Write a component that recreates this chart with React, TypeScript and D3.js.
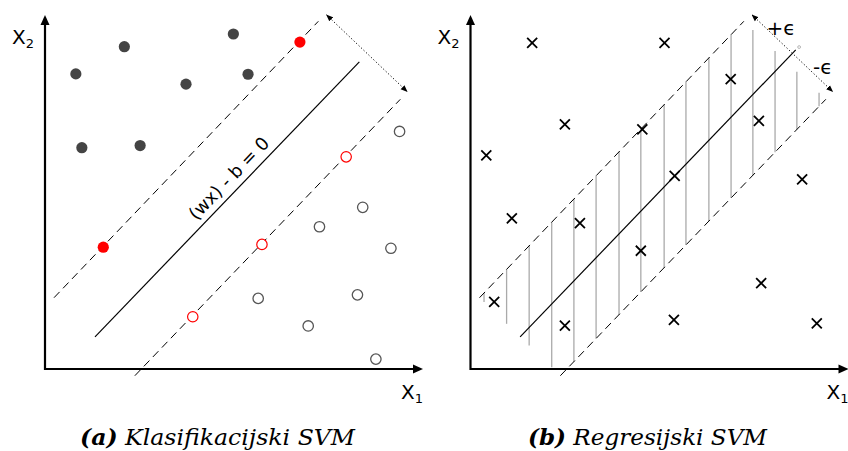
import React from "react";
import * as d3 from "d3";

// plot frame in pixels (same for both panels)
const PLOT_W = 376;
const PLOT_H = 353;
const TOP = 16;
const PANEL_X = [45, 470.5];

// (a) classification points, in data units 0..100
const darkPoints = [
  [8.2, 83.6], [21.1, 91.3], [50.1, 94.9], [37.5, 80.7],
  [54.0, 83.5], [9.8, 62.7], [25.3, 63.3],
];
const redFilled = [[67.8, 92.6], [15.5, 34.5]];
const redHollow = [[80.1, 60.1], [57.7, 35.3], [39.3, 14.8]];
const greyHollow = [
  [94.3, 67.3], [84.5, 45.8], [73.0, 40.3], [92.0, 34.2],
  [56.7, 20.0], [83.1, 21.0], [70.0, 12.2], [88.0, 2.8],
];

// (b) regression points
const crosses = [
  [16.4, 92.4], [51.6, 92.4], [69.2, 82.1], [25.1, 69.3], [45.7, 67.9],
  [76.7, 70.3], [4.2, 60.5], [54.3, 54.7], [88.2, 53.7], [11.0, 42.7],
  [29.1, 41.3], [45.3, 33.5], [77.3, 24.3], [6.3, 19.0], [25.1, 12.3],
  [54.1, 13.9], [92.1, 12.9],
];

// margin lines
const upperMargin = [[2.4, 20.2], [72.7, 98.5]];
const lowerMargin = [[23.9, -1.9], [94.5, 76.4]];
const solidA = [[13.3, 9.1], [83.6, 87.0]];
const solidB = [[13.2, 9.1], [86.5, 90.4]];
const widthArrow = [[74.9, 100.3], [96.3, 78.6]];
const hatchX = [3.6, 9.6, 15.6, 21.6, 27.5, 33.4, 39.5, 45.3, 51.5, 57.3, 63.4, 69.3, 75.1, 81.0, 86.8, 92.7];

const x = d3.scaleLinear().domain([0, 100]).range([0, PLOT_W]);
const y = d3.scaleLinear().domain([0, 100]).range([PLOT_H, 0]);
const line = d3.line<number[]>().x(d => x(d[0])).y(d => y(d[1]));

const band = [upperMargin[0], upperMargin[1], lowerMargin[1], lowerMargin[0]];

function clipVertical(xv: number) {
  const ys: number[] = [];
  for (let i = 0; i < band.length; i++) {
    const a = band[i], b = band[(i + 1) % band.length];
    const lo = Math.min(a[0], b[0]), hi = Math.max(a[0], b[0]);
    if (xv < lo || xv > hi || hi === lo) continue;
    ys.push(a[1] + ((xv - a[0]) / (b[0] - a[0])) * (b[1] - a[1]));
  }
  return [Math.max(0, d3.min(ys)!), d3.max(ys)!];
}

function Axes({ xlabel, ylabel }: { xlabel: string; ylabel: string }) {
  const x0 = x(0), y0 = y(0);
  const xt = x(100) + 2, yt = y(100) - 1;
  return (
    <g>
      <line x1={x0} y1={y0} x2={xt - 8} y2={y0} stroke="#000" strokeWidth={2.2} />
      <line x1={x0} y1={y0 + 1} x2={x0} y2={yt + 8} stroke="#000" strokeWidth={2.2} />
      <path d={`M${xt},${y0} L${xt - 10},${y0 - 4.5} L${xt - 10},${y0 + 4.5} Z`} fill="#000" />
      <path d={`M${x0},${yt} L${x0 - 4.5},${yt + 10} L${x0 + 4.5},${yt + 10} Z`} fill="#000" />
      <text x={x0 - 33} y={27.5} fontFamily="DejaVu Sans" fontSize={20}>
        {ylabel}<tspan fontSize={13} dy={4}>2</tspan>
      </text>
      <text x={x(100) - 20} y={y0 + 29.5} fontFamily="DejaVu Sans" fontSize={20}>
        {xlabel}<tspan fontSize={13} dy={4}>1</tspan>
      </text>
    </g>
  );
}

function Margins({ solid }: { solid: number[][] }) {
  return (
    <g fill="none">
      <path d={line(upperMargin)!} stroke="#000" strokeWidth={1} strokeDasharray="8,5" />
      <path d={line(lowerMargin)!} stroke="#000" strokeWidth={1} strokeDasharray="8,5" />
      <path d={line(solid)!} stroke="#000" strokeWidth={1.2} />
      <path d={line(widthArrow)!} stroke="#000" strokeWidth={1} strokeDasharray="1.2,2.2"
        markerStart="url(#tip)" markerEnd="url(#tip)" />
    </g>
  );
}

export default function App() {
  const r = 5.6;
  return (
    <svg width={848} height={451} style={{ position: "absolute", left: 0, top: 0, background: "#fff" }}>
      <defs>
        <marker id="tip" viewBox="0 0 10 10" refX={9} refY={5} markerWidth={7} markerHeight={7}
          markerUnits="userSpaceOnUse" orient="auto-start-reverse">
          <path d="M0,1 L10,5 L0,9 Z" fill="#000" />
        </marker>
      </defs>

      {/* (a) classification */}
      <g transform={`translate(${PANEL_X[0]},${TOP})`}>
        <Margins solid={solidA} />
        {darkPoints.map((d, i) => (
          <circle key={"d" + i} cx={x(d[0])} cy={y(d[1])} r={r} fill="#444" />
        ))}
        {redFilled.map((d, i) => (
          <circle key={"r" + i} cx={x(d[0])} cy={y(d[1])} r={r} fill="#f00" />
        ))}
        {redHollow.map((d, i) => (
          <circle key={"h" + i} cx={x(d[0])} cy={y(d[1])} r={5.2} fill="#fff" stroke="#f00" strokeWidth={1.2} />
        ))}
        {greyHollow.map((d, i) => (
          <circle key={"g" + i} cx={x(d[0])} cy={y(d[1])} r={5.2} fill="#fff" stroke="#555" strokeWidth={1.3} />
        ))}
        <text
          transform={`translate(${x(50.1)},${y(52.8)}) rotate(-46.1)`}
          textAnchor="middle" fontFamily="DejaVu Sans" fontSize={18}
        >
          (wx) - b = 0
        </text>
        <Axes xlabel="X" ylabel="X" />
      </g>

      {/* (b) regression */}
      <g transform={`translate(${PANEL_X[1]},${TOP})`}>
        {hatchX.map((xv, i) => {
          const [y1, y2] = clipVertical(xv);
          return (
            <line key={"v" + i} x1={x(xv)} x2={x(xv)} y1={y(y1)} y2={y(y2)} stroke="#aaa" strokeWidth={1.3} />
          );
        })}
        <Margins solid={solidB} />
        <circle cx={x(87.4)} cy={y(91.2)} r={1.4} fill="#fff" stroke="#888" strokeWidth={0.6} />
        {crosses.map((d, i) => {
          const cx = x(d[0]), cy = y(d[1]), s = 5;
          return (
            <path key={"c" + i}
              d={`M${cx - s},${cy - s} L${cx + s},${cy + s} M${cx - s},${cy + s} L${cx + s},${cy - s}`}
              stroke="#000" strokeWidth={1.8} />
          );
        })}
        <text x={x(82.6)} y={y(96.6) + 7} textAnchor="middle" fontFamily="DejaVu Sans" fontSize={20}>+ϵ</text>
        <text x={x(93.7)} y={y(85.6) + 7} textAnchor="middle" fontFamily="DejaVu Sans" fontSize={20}>-ϵ</text>
        <Axes xlabel="X" ylabel="X" />
      </g>

      {/* captions */}
      <text x={80} y={445} textLength={275} lengthAdjust="spacingAndGlyphs"
        fontFamily="DejaVu Serif" fontStyle="italic" fontSize={22}>
        <tspan fontWeight="bold">(a)</tspan> Klasifikacijski SVM
      </text>
      <text x={528} y={445} textLength={239} lengthAdjust="spacingAndGlyphs"
        fontFamily="DejaVu Serif" fontStyle="italic" fontSize={22}>
        <tspan fontWeight="bold">(b)</tspan> Regresijski SVM
      </text>
    </svg>
  );
}
